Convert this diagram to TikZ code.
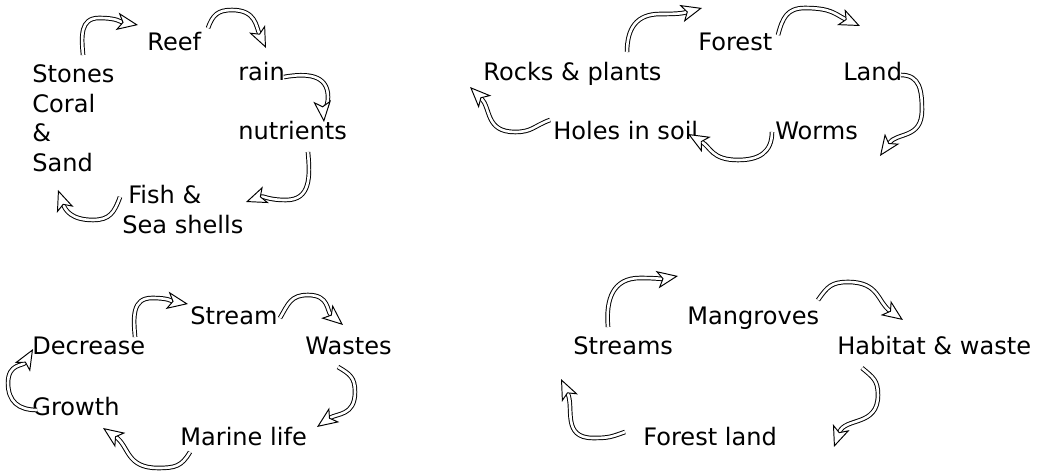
\documentclass[tikz,border=0pt]{standalone}
\usepackage{fontspec}
\setmainfont{DejaVu Sans}
\usetikzlibrary{arrows.meta, positioning}

\begin{document}
\begin{tikzpicture}[
        x=0.02cm, y=0.02cm,
        lbl/.style={inner sep=0pt, anchor=base west, font=\fontsize{13.7}{17}\selectfont},
        stack/.style={lbl, align=left, anchor=north west},
        curl/.style={draw=black, double=white, line width=0.55pt, double distance=1.5pt, looseness=1.2,
            -{Stealth[open, fill=white, length=12pt, width=10pt, inset=3pt]}}
    ]
    \useasboundingbox (0,0) rectangle (1039,-471);

    % reef cycle
    \node[lbl] (reef) at (147,-50) {Reef};
    \node[lbl, below right=0.62cm and 1.82cm of reef.base west, anchor=base west] (rain) {rain};
    \node[lbl, below=1.18cm of rain.base west, anchor=base west] (nutrients) {nutrients};
    \node[stack, below left=0.28cm and 2.3cm of reef.base west, anchor=north west] (stones) {Stones\\Coral\\\&\\Sand};
    \node[stack, below left=2.7cm and 0.5cm of reef.base west, anchor=north west] (fish) {\hspace*{3.4pt}Fish \&\\Sea shells};

    \draw[curl] ([shift={(51,9)}]stones.north west) to[out=95, in=180] ([shift={(67,46)}]stones.north west)
        to[out=0, in=170] ([shift={(-9,25)}]reef.base west);
    \draw[curl] ([shift={(61,22)}]reef.base west) to[out=70, in=180] ([shift={(85,40)}]reef.base west)
        to[out=0, in=115] ([shift={(119,2)}]reef.base west);
    \draw[curl] ([shift={(46,4)}]rain.base west) to[out=10, in=90] ([shift={(90,-16)}]rain.base west)
        to[out=-90, in=95] ([shift={(86,-41)}]rain.base west);
    \draw[curl] ([shift={(70,-12)}]nutrients.base west) to[out=-85, in=0] ([shift={(48,-60)}]nutrients.base west)
        to[out=180, in=20] ([shift={(8,-62)}]nutrients.base west);
    \draw[curl] ([shift={(-2,-12)}]fish.north west) to[out=-110, in=0] ([shift={(-29,-35)}]fish.north west)
        to[out=180, in=-70] ([shift={(-64,-5)}]fish.north west);

    % forest cycle
    \node[lbl] (forest) at (698,-50) {Forest};
    \node[lbl, below left=0.6cm and 4.3cm of forest.base west, anchor=base west] (rocks) {Rocks \& plants};
    \node[lbl, below right=0.6cm and 2.9cm of forest.base west, anchor=base west] (land) {Land};
    \node[lbl, below right=1.2cm and 1.4cm of rocks.base west, anchor=base west] (holes) {Holes in soil};
    \node[lbl, right=4.44cm of holes.base west, anchor=base west] (worms) {Worms};

    \draw[curl] ([shift={(144,28)}]rocks.base west) to[out=90, in=180] ([shift={(-38,36)}]forest.base west)
        to[out=0, in=195] ([shift={(4,42)}]forest.base west);
    \draw[curl] ([shift={(80,15)}]forest.base west) to[out=75, in=180] ([shift={(107,42)}]forest.base west)
        to[out=0, in=155] ([shift={(17,54)}]land.base west);
    \draw[curl] ([shift={(58,5)}]land.base west) to[out=0, in=90] ([shift={(79,-30)}]land.base west)
        to[out=-90, in=55] ([shift={(105,-16)}]worms.base west);
    \draw[curl] ([shift={(-3,8)}]worms.base west) to[out=-90, in=0] ([shift={(-37,-20)}]worms.base west)
        to[out=180, in=-30] ([shift={(135,6)}]holes.base west);
    \draw[curl] ([shift={(-3,20)}]holes.base west) to[out=-160, in=0] ([shift={(-38,8)}]holes.base west)
        to[out=180, in=-45] ([shift={(-13,-7)}]rocks.base west);

    % stream cycle
    \node[lbl] (stream) at (190,-324) {Stream};
    \node[lbl, below left=0.6cm and 3.16cm of stream.base west, anchor=base west] (decrease) {Decrease};
    \node[lbl, below right=0.6cm and 2.3cm of stream.base west, anchor=base west] (wastes) {Wastes};
    \node[lbl, below=1.24cm of decrease.base west, anchor=base west] (growth) {Growth};
    \node[lbl, below left=2.44cm and 0.2cm of stream.base west, anchor=base west] (marine) {Marine life};

    \draw[curl] ([shift={(103,17)}]decrease.base west) to[out=95, in=180] ([shift={(120,56)}]decrease.base west)
        to[out=0, in=170] ([shift={(-2,20)}]stream.base west);
    \draw[curl] ([shift={(90,6)}]stream.base west) to[out=60, in=180] ([shift={(118,29)}]stream.base west)
        to[out=0, in=140] ([shift={(38,29)}]wastes.base west);
    \draw[curl] ([shift={(33,-13)}]wastes.base west) to[out=-30, in=90] ([shift={(50,-38)}]wastes.base west)
        to[out=-90, in=35] ([shift={(137,19)}]marine.base west);
    \draw[curl] ([shift={(10,-6)}]marine.base west) to[out=-120, in=0] ([shift={(-22,-22)}]marine.base west)
        to[out=180, in=-35] ([shift={(71,-12)}]growth.base west);
    \draw[curl] ([shift={(5,6)}]growth.base west) to[out=180, in=-90] ([shift={(-24,33)}]growth.base west)
        to[out=90, in=240] ([shift={(1,5)}]decrease.base west);

    % mangrove cycle
    \node[lbl] (mangroves) at (687,-324) {Mangroves};
    \node[lbl, below left=0.6cm and 2.28cm of mangroves.base west, anchor=base west] (streams) {Streams};
    \node[lbl, below right=0.6cm and 3cm of mangroves.base west, anchor=base west] (habitat) {Habitat \& waste};
    \node[lbl, below left=2.44cm and 0.88cm of mangroves.base west, anchor=base west] (forestland) {Forest land};

    \draw[curl] ([shift={(35,27)}]streams.base west) to[out=95, in=180] ([shift={(-47,46)}]mangroves.base west)
        to[out=0, in=190] ([shift={(-9,48)}]mangroves.base west);
    \draw[curl] ([shift={(131,24)}]mangroves.base west) to[out=55, in=180] ([shift={(161,42)}]mangroves.base west)
        to[out=0, in=145] ([shift={(66,34)}]habitat.base west);
    \draw[curl] ([shift={(25,-14)}]habitat.base west) to[out=-40, in=90] ([shift={(41,-41)}]habitat.base west)
        to[out=-90, in=70] ([shift={(191,-1)}]forestland.base west);
    \draw[curl] ([shift={(-18,14)}]forestland.base west) to[out=-160, in=0] ([shift={(-50,8)}]forestland.base west)
        to[out=180, in=-65] ([shift={(-12,-25)}]streams.base west);
\end{tikzpicture}
\end{document}
